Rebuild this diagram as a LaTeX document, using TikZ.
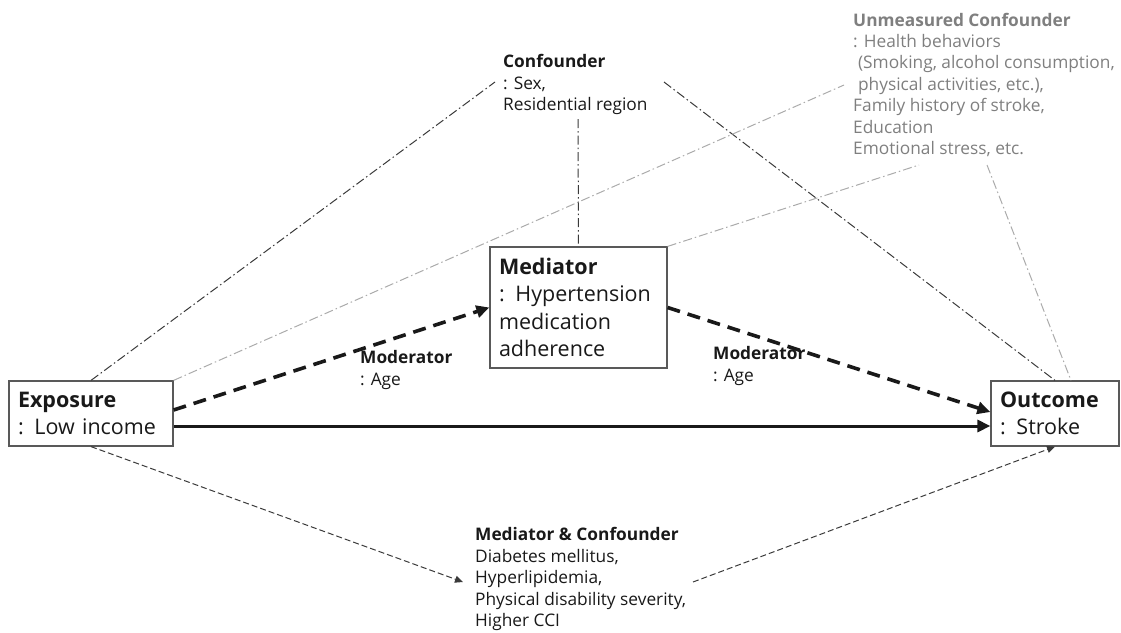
\documentclass[tikz,border=0pt]{standalone}
\usepackage{fontspec}
\setmainfont{Open Sans}
\usetikzlibrary{arrows.meta}
\definecolor{boxline}{HTML}{595959}
\definecolor{darkdd}{HTML}{3A3A3A}
\definecolor{lightdd}{HTML}{ABABAB}
\definecolor{ghost}{HTML}{7F7F7F}
\newcommand{\bigtxt}{\fontsize{21.5}{27.5}\selectfont}
\newcommand{\smalltxt}{\fontsize{17.3}{21.4}\selectfont}
\newcommand{\indentsp}{\hspace*{0.28em}}
\tikzset{
  varbox/.style={draw=boxline, line width=1.2pt, inner xsep=9pt, inner ysep=0pt,
    align=left, font=\bigtxt, text=black!90},
  note/.style={inner sep=0pt, align=left, anchor=base west, font=\smalltxt, text=black!90},
  dashdot/.style={line width=1pt, dash pattern=on 9pt off 3pt on 1.5pt off 3pt},
  thickpath/.style={line width=3.6pt, dash pattern=on 13pt off 8pt, -{Triangle[length=13pt,width=12pt]}},
  thinpath/.style={draw=darkdd, line width=1pt, dash pattern=on 6pt off 3pt, -{Triangle[length=8pt,width=7pt]}}
}

\begin{document}
\begin{tikzpicture}[x=1pt, y=-1pt]
        \useasboundingbox (0,0) rectangle (1121,632);
        \coordinate (conf_L) at (495, 82);
        \coordinate (conf_R) at (664, 82);
        \coordinate (conf_B) at (578, 119);
        \coordinate (unconf_L) at (844, 85);
        \coordinate (unconf_B1) at (919, 165);
        \coordinate (unconf_B2) at (987, 165);
        \coordinate (medconf_L) at (463, 582);
        \coordinate (medconf_R) at (693, 582);

        % variable boxes
        \node[varbox, minimum width=164pt, minimum height=65pt, text width=146pt] (expo) at (91, 413.5)
            {\textbf{Exposure}\\: Low income};
        \node[varbox, minimum width=177pt, minimum height=121pt, text width=159pt] (medi) at (578.5, 307.5)
            {\textbf{Mediator}\\: Hypertension\\medication\\adherence};
        \node[varbox, minimum width=128pt, minimum height=65pt, text width=110pt] (outc) at (1055, 413.5)
            {\textbf{Outcome}\\: Stroke};

        % text blocks (placed at the baseline of their last line)
        \node[note] (conf) at (503, 110.5) {\textbf{Confounder}\\: Sex,\\Residential region};
        \node[note, text=ghost] (unconf) at (853, 154.5)
            {\textbf{Unmeasured Confounder}\\: Health behaviors\\\indentsp(Smoking, alcohol consumption,\\\indentsp physical activities, etc.),\\Family history of stroke,\\Education\\Emotional stress, etc.};
        \node[note] (modL) at (360, 385) {\textbf{Moderator}\\: Age};
        \node[note] (modR) at (713, 381) {\textbf{Moderator}\\: Age};
        \node[note] (medconf) at (475, 626.5)
            {\textbf{Mediator \& Confounder}\\Diabetes mellitus,\\Hyperlipidemia,\\Physical disability severity,\\Higher CCI};

        % confounder paths
        \draw[dashdot, darkdd] (expo.north) -- (conf_L);
        \draw[dashdot, darkdd] (conf_R) -- (outc.north);
        \draw[dashdot, darkdd] (conf_B) -- (medi.north);

        % unmeasured confounder paths
        \draw[dashdot, lightdd] (expo.north east) -- (unconf_L);
        \draw[dashdot, lightdd] (medi.north east) -- (unconf_B1);
        \draw[dashdot, lightdd] (unconf_B2) -- ([xshift=16pt]outc.north);

        % mediation paths
        \draw[thickpath, black!90] ([yshift=3.5pt]expo.east) -- (medi.west);
        \draw[thickpath, black!90] (medi.east) -- ([yshift=1.5pt]outc.west);
        \draw[line width=3pt, black!90, -{Triangle[length=13pt,width=12pt]}] ([yshift=-12.5pt]expo.east) -- ([yshift=-12.5pt]outc.west);

        % mediator and confounder paths
        \draw[thinpath] (expo.south) -- (medconf_L);
        \draw[thinpath] (medconf_R) -- (outc.south);
\end{tikzpicture}
\end{document}
